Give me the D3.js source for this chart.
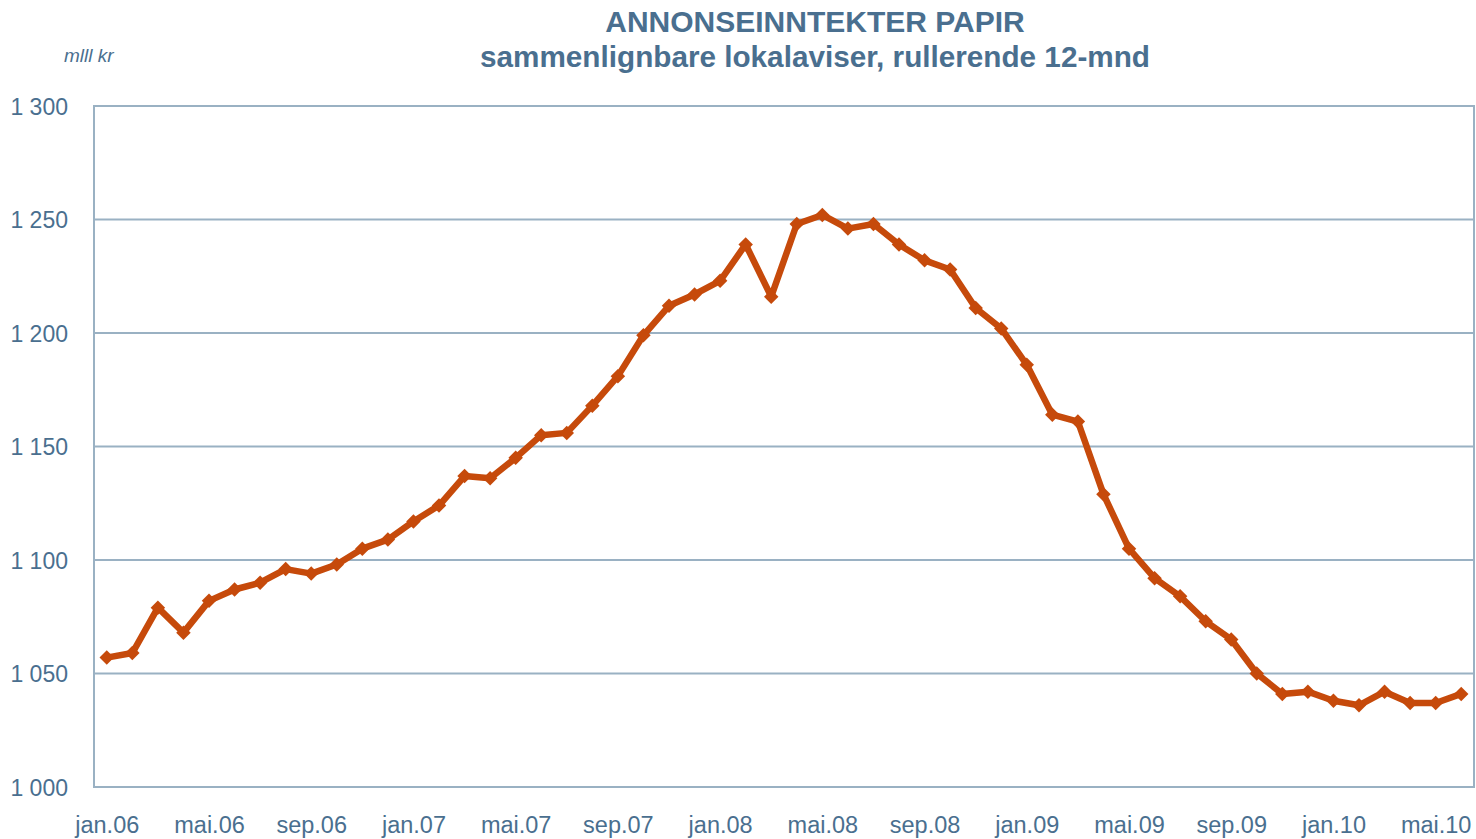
<!DOCTYPE html>
<html>
<head>
<meta charset="utf-8">
<script src="https://cdn.jsdelivr.net/npm/d3@7"></script>
<style>
  body { margin: 0; background: #fff; }
  text { font-family: "Liberation Sans", Arial, sans-serif; }
</style>
</head>
<body>
<svg></svg>
<script>
  var width = 1476;
  var height = 839;

  // data
  var monthNames = ['jan', 'feb', 'mar', 'apr', 'mai', 'jun', 'jul', 'aug', 'sep', 'okt', 'nov', 'des'];
  var years = ['06', '07', '08', '09', '10'];
  var months = [];
  years.forEach(function (yr) {
    monthNames.forEach(function (m) { months.push(m + '.' + yr); });
  });
  months = months.slice(0, 54); // jan.06 - jun.10

  var values = [
    1057, 1059, 1079, 1068, 1082, 1087, 1090, 1096, 1094, 1098, 1105, 1109,
    1117, 1124, 1137, 1136, 1145, 1155, 1156, 1168, 1181, 1199, 1212, 1217,
    1223, 1239, 1216, 1248, 1252, 1246, 1248, 1239, 1232, 1228, 1211, 1202,
    1186, 1164, 1161, 1129, 1105, 1092, 1084, 1073, 1065, 1050, 1041, 1042,
    1038, 1036, 1042, 1037, 1037, 1041
  ];
  var yTicks = [1000, 1050, 1100, 1150, 1200, 1250, 1300];

  var textColor = '#4a6f8f';
  var gridColor = '#9ab1c3';
  var lineColor = '#c64a0b';

  var plotLeft = 94, plotRight = 1474, plotTop = 106, plotBottom = 787;

  var svg = d3.select('svg')
    .attr('width', width)
    .attr('height', height);

  var x = d3.scalePoint()
    .domain(months)
    .range([plotLeft, plotRight])
    .padding(0.5);

  var y = d3.scaleLinear()
    .domain([1000, 1300])
    .range([plotBottom, plotTop]);

  var fmt = function (v) { return d3.format(',')(v).replace(',', ' '); };

  // grid
  svg.append('g').selectAll('line')
    .data(yTicks)
    .enter()
    .append('line')
    .attr('x1', plotLeft)
    .attr('x2', plotRight)
    .attr('y1', function (d) { return y(d); })
    .attr('y2', function (d) { return y(d); })
    .attr('stroke', gridColor)
    .attr('stroke-width', 2);

  // frame
  svg.append('rect')
    .attr('x', plotLeft)
    .attr('y', plotTop)
    .attr('width', plotRight - plotLeft)
    .attr('height', plotBottom - plotTop)
    .attr('fill', 'none')
    .attr('stroke', gridColor)
    .attr('stroke-width', 2);

  // y axis
  var yAxis = svg.append('g')
    .attr('transform', 'translate(' + (plotLeft - 26) + ',0)')
    .call(d3.axisLeft(y).tickValues(yTicks).tickSize(0).tickPadding(0).tickFormat(fmt));
  yAxis.select('.domain').remove();
  yAxis.selectAll('text')
    .attr('fill', textColor)
    .style('font-size', '23px')
    .attr('dy', '0.36em');

  // x axis
  var xAxis = svg.append('g')
    .attr('transform', 'translate(0,' + plotBottom + ')')
    .call(d3.axisBottom(x)
      .tickValues(months.filter(function (d, i) { return i % 4 === 0; }))
      .tickSize(0)
      .tickPadding(0));
  xAxis.select('.domain').remove();
  xAxis.selectAll('text')
    .attr('fill', textColor)
    .style('font-size', '23.5px')
    .attr('y', 46)
    .attr('dy', 0);

  // line
  var line = d3.line()
    .x(function (d, i) { return x(months[i]); })
    .y(function (d) { return y(d); });

  svg.append('path')
    .datum(values)
    .attr('d', line)
    .attr('fill', 'none')
    .attr('stroke', lineColor)
    .attr('stroke-width', 6.5)
    .attr('stroke-linejoin', 'round');

  // markers: square rotated 45deg
  svg.append('g').selectAll('path')
    .data(values)
    .enter()
    .append('path')
    .attr('d', d3.symbol().type(d3.symbolSquare).size(105))
    .attr('transform', function (d, i) {
      return 'translate(' + x(months[i]) + ',' + y(d) + ') rotate(45)';
    })
    .attr('fill', lineColor);

  // titles
  svg.append('text')
    .attr('x', 815)
    .attr('y', 32)
    .attr('text-anchor', 'middle')
    .attr('fill', textColor)
    .style('font-size', '30px')
    .style('font-weight', 'bold')
    .text('ANNONSEINNTEKTER PAPIR');

  svg.append('text')
    .attr('x', 815)
    .attr('y', 67)
    .attr('text-anchor', 'middle')
    .attr('fill', textColor)
    .style('font-size', '29.7px')
    .style('font-weight', 'bold')
    .text('sammenlignbare lokalaviser, rullerende 12-mnd');

  svg.append('text')
    .attr('x', 64)
    .attr('y', 62)
    .attr('fill', textColor)
    .style('font-size', '19px')
    .style('font-style', 'italic')
    .text('mlll kr');
</script>
</body>
</html>
